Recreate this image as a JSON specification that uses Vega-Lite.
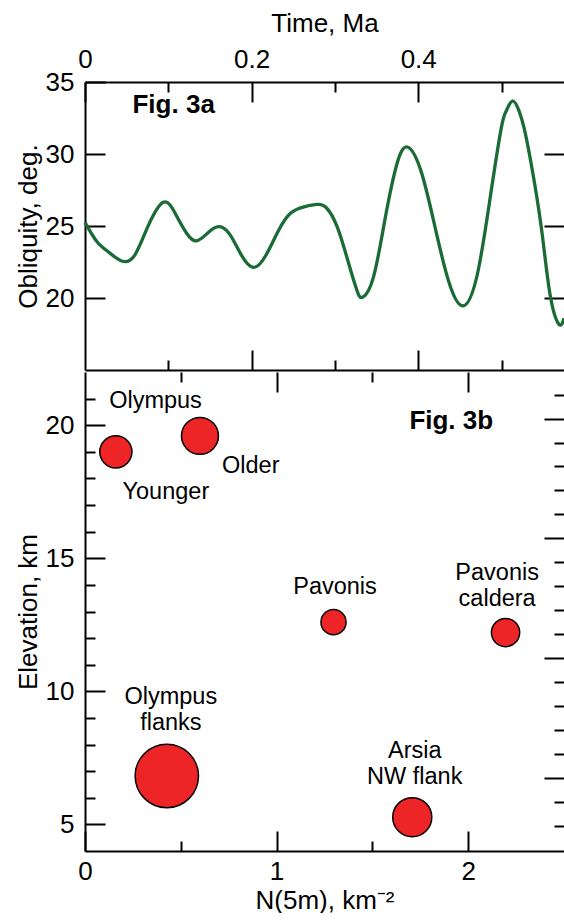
{
  "$schema": "https://vega.github.io/schema/vega-lite/v6.json",
  "background": "white",
  "padding": {"left": 15, "top": 10, "right": 0, "bottom": 0},
  "spacing": 0,
  "config": {
    "font": "Liberation Sans",
    "view": {"stroke": null},
    "axis": {
      "domainColor": "black", "domainWidth": 2, "tickColor": "black", "tickWidth": 2,
      "labelColor": "black", "titleColor": "black",
      "labelFont": "Liberation Sans", "titleFont": "Liberation Sans",
      "labelFontSize": 26, "titleFontSize": 26, "titleFontWeight": "normal",
      "grid": false, "labelFlush": false, "labelOverlap": false, "labelPadding": 10
    }
  },
  "vconcat": [
    {
      "width": 479,
      "height": 288,
      "resolve": {"axis": {"x": "independent", "y": "independent"}},
      "layer": [
        {
          "data": {"name": "obliquity", "values": [
            {"t": 0.000, "obliquity": 25.25},
            {"t": 0.008, "obliquity": 24.45},
            {"t": 0.016, "obliquity": 23.8},
            {"t": 0.028, "obliquity": 23.2},
            {"t": 0.045, "obliquity": 22.55},
            {"t": 0.060, "obliquity": 23.0},
            {"t": 0.075, "obliquity": 24.9},
            {"t": 0.094, "obliquity": 26.65},
            {"t": 0.109, "obliquity": 25.8},
            {"t": 0.122, "obliquity": 24.5},
            {"t": 0.134, "obliquity": 23.97},
            {"t": 0.148, "obliquity": 24.55},
            {"t": 0.161, "obliquity": 24.95},
            {"t": 0.174, "obliquity": 24.4},
            {"t": 0.187, "obliquity": 23.05},
            {"t": 0.202, "obliquity": 22.13},
            {"t": 0.217, "obliquity": 22.95},
            {"t": 0.232, "obliquity": 24.65},
            {"t": 0.247, "obliquity": 25.9},
            {"t": 0.264, "obliquity": 26.35},
            {"t": 0.279, "obliquity": 26.5},
            {"t": 0.290, "obliquity": 26.25},
            {"t": 0.303, "obliquity": 24.9},
            {"t": 0.316, "obliquity": 22.5},
            {"t": 0.326, "obliquity": 20.6},
            {"t": 0.333, "obliquity": 20.05},
            {"t": 0.346, "obliquity": 21.4},
            {"t": 0.3595, "obliquity": 25.27},
            {"t": 0.3728, "obliquity": 28.96},
            {"t": 0.386, "obliquity": 30.5},
            {"t": 0.403, "obliquity": 28.88},
            {"t": 0.420, "obliquity": 24.97},
            {"t": 0.437, "obliquity": 21.07},
            {"t": 0.454, "obliquity": 19.45},
            {"t": 0.471, "obliquity": 21.65},
            {"t": 0.487, "obliquity": 27.2},
            {"t": 0.4998, "obliquity": 31.83},
            {"t": 0.5058, "obliquity": 33.0},
            {"t": 0.513, "obliquity": 33.68},
            {"t": 0.521, "obliquity": 33.0},
            {"t": 0.527, "obliquity": 31.83},
            {"t": 0.535, "obliquity": 29.51},
            {"t": 0.5478, "obliquity": 24.88},
            {"t": 0.5582, "obliquity": 20.26},
            {"t": 0.569, "obliquity": 18.17},
            {"t": 0.575, "obliquity": 18.6}
          ]},
          "mark": {"type": "line", "interpolate": "natural", "color": "#1b6b37", "strokeWidth": 3.3},
          "encoding": {
            "x": {"field": "t", "type": "quantitative",
                  "scale": {"domain": [0, 0.575], "nice": false, "zero": false},
                  "axis": {"orient": "top", "title": "Time, Ma", "values": [0, 0.2, 0.4], "format": "~g", "tickSize": -20, "labelPadding": 30, "titlePadding": 10}},
            "y": {"field": "obliquity", "type": "quantitative",
                  "scale": {"domain": [15, 35], "nice": false, "zero": false},
                  "axis": {"orient": "left", "title": "Obliquity, deg.", "values": [20, 25, 30, 35], "tickSize": -20, "labelPadding": 31, "titlePadding": 4}}
          }
        },
        {
          "data": {"values": [{"t": 0.057, "obliquity": 32.87, "label": "Fig. 3a"}]},
          "mark": {"type": "text", "fontSize": 26, "fontWeight": "bold", "align": "left", "baseline": "alphabetic", "color": "black"},
          "encoding": {
            "x": {"field": "t", "type": "quantitative",
                  "axis": {"orient": "top", "title": null, "values": [0.1, 0.3, 0.5], "labels": false, "domain": false, "tickSize": -10}},
            "y": {"field": "obliquity", "type": "quantitative",
                  "axis": {"orient": "right", "title": null, "values": [20, 25, 30], "labels": false, "domain": false, "tickSize": -20}},
            "text": {"field": "label"}
          }
        },
        {
          "data": {"name": "obliquity"},
          "mark": {"type": "point", "opacity": 0},
          "encoding": {
            "x": {"field": "t", "type": "quantitative",
                  "axis": {"orient": "bottom", "title": null, "values": [0.2, 0.4], "labels": false, "domain": true, "tickSize": -20}},
            "y": {"field": "obliquity", "type": "quantitative", "axis": null}
          }
        },
        {
          "data": {"name": "obliquity"},
          "mark": {"type": "point", "opacity": 0},
          "encoding": {
            "x": {"field": "t", "type": "quantitative",
                  "axis": {"orient": "bottom", "title": null, "values": [0.1, 0.3, 0.5], "labels": false, "domain": false, "tickSize": -10}},
            "y": {"field": "obliquity", "type": "quantitative", "axis": null}
          }
        }
      ]
    },
    {
      "width": 479,
      "height": 479,
      "resolve": {"axis": {"x": "independent", "y": "independent"}},
      "layer": [
        {
          "data": {"name": "sites", "values": [
            {"site": "Olympus younger", "n": 0.161, "elevation": 19.0, "weight": 10.35},
            {"site": "Olympus older", "n": 0.60, "elevation": 19.6, "weight": 13.66},
            {"site": "Pavonis", "n": 1.297, "elevation": 12.6, "weight": 6.29},
            {"site": "Pavonis caldera", "n": 2.195, "elevation": 12.21, "weight": 7.99},
            {"site": "Olympus flanks", "n": 0.427, "elevation": 6.82, "weight": 40.15},
            {"site": "Arsia NW flank", "n": 1.708, "elevation": 5.27, "weight": 15.27}
          ]},
          "mark": {"type": "circle", "fill": "#ee2526", "stroke": "black", "strokeWidth": 1.5, "opacity": 1, "fillOpacity": 1},
          "encoding": {
            "x": {"field": "n", "type": "quantitative",
                  "scale": {"domain": [0, 2.5], "nice": false, "zero": false},
                  "axis": {"orient": "bottom", "title": "N(5m), km⁻²", "values": [0, 1, 2], "format": "~g", "tickSize": -20, "labelPadding": 27, "titlePadding": 3}},
            "y": {"field": "elevation", "type": "quantitative",
                  "scale": {"domain": [4, 22], "nice": false, "zero": false},
                  "axis": {"orient": "left", "title": "Elevation, km", "values": [5, 10, 15, 20], "tickSize": -20, "labelPadding": 31, "titlePadding": 4}},
            "size": {"field": "weight", "type": "quantitative",
                     "scale": {"type": "linear", "domain": [0, 10], "range": [0, 1000]}, "legend": null}
          }
        },
        {
          "data": {"values": [
            {"n": 0.368, "elevation": 20.66, "label": "Olympus"},
            {"n": 0.865, "elevation": 18.21, "label": "Older"},
            {"n": 0.422, "elevation": 17.22, "label": "Younger"},
            {"n": 1.305, "elevation": 13.64, "label": "Pavonis"},
            {"n": 2.151, "elevation": 14.19, "label": "Pavonis\ncaldera"},
            {"n": 0.448, "elevation": 9.54, "label": "Olympus\nflanks"},
            {"n": 1.721, "elevation": 7.5, "label": "Arsia\nNW flank"}
          ]},
          "mark": {"type": "text", "fontSize": 23.5, "align": "center", "baseline": "alphabetic", "lineBreak": "\n", "lineHeight": 26, "color": "black"},
          "encoding": {
            "x": {"field": "n", "type": "quantitative",
                  "axis": {"orient": "bottom", "title": null, "values": [0.5, 1.5], "labels": false, "domain": false, "tickSize": -10}},
            "y": {"field": "elevation", "type": "quantitative",
                  "axis": {"orient": "left", "title": null, "values": [6, 7, 8, 9, 11, 12, 13, 14, 16, 17, 18, 19, 21], "labels": false, "domain": false, "tickSize": -10}},
            "text": {"field": "label"}
          }
        },
        {
          "data": {"values": [{"n": 1.693, "elevation": 19.86, "label": "Fig. 3b"}]},
          "mark": {"type": "text", "fontSize": 26, "fontWeight": "bold", "align": "left", "baseline": "alphabetic", "color": "black"},
          "encoding": {
            "x": {"field": "n", "type": "quantitative",
                  "axis": {"orient": "top", "title": null, "values": [1, 2], "labels": false, "domain": false, "tickSize": -20}},
            "y": {"field": "elevation", "type": "quantitative",
                  "axis": {"orient": "right", "title": null, "values": [6.75, 11.25, 15.75, 20.25], "labels": false, "domain": false, "tickSize": -20}},
            "text": {"field": "label"}
          }
        },
        {
          "data": {"name": "sites"},
          "mark": {"type": "point", "opacity": 0},
          "encoding": {
            "x": {"field": "n", "type": "quantitative",
                  "axis": {"orient": "top", "title": null, "values": [0.5, 1.5], "labels": false, "domain": false, "tickSize": -10}},
            "y": {"field": "elevation", "type": "quantitative",
                  "axis": {"orient": "right", "title": null, "values": [4.95, 5.85, 7.65, 8.55, 9.45, 10.35, 12.15, 13.05, 13.95, 14.85, 16.65, 17.55, 18.45, 19.35, 21.15], "labels": false, "domain": false, "tickSize": -10}}
          }
        }
      ]
    }
  ]
}
